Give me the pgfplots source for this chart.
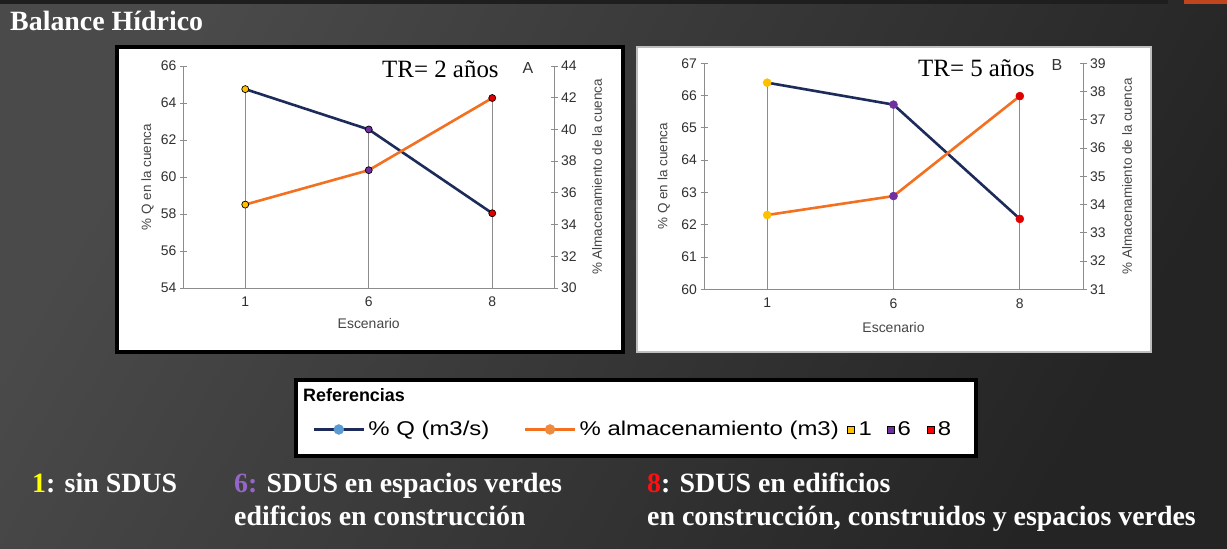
\documentclass[border=0pt]{standalone}
\usepackage{pgfplots}
\pgfplotsset{compat=1.18}
\usepackage{pgfplotstable}
\usepackage{fontspec}
\setmainfont{Liberation Serif}
\newfontfamily\arial{Liberation Sans}
\newfontfamily\arialwide[FakeStretch=1.2]{Liberation Sans}

\definecolor{bglight}{HTML}{4A4A4A}
\definecolor{bgdark}{HTML}{242424}
\definecolor{topstrip}{HTML}{1E1E1E}
\definecolor{orangebar}{HTML}{C0441C}
\definecolor{panelgray}{HTML}{BEBEBE}
\definecolor{axgray}{HTML}{8C8C8C}
\definecolor{txtgray}{HTML}{303030}
\definecolor{lblgray}{HTML}{454545}
\definecolor{navy}{HTML}{1C2B5A}
\definecolor{orng}{HTML}{F37021}
\definecolor{lblue}{HTML}{5B9BD5}
\definecolor{lorng}{HTML}{EE8A3C}
\definecolor{cyel}{HTML}{FFC000}
\definecolor{cpur}{HTML}{7030A0}
\definecolor{cred}{HTML}{E00000}
\definecolor{tyel}{HTML}{FFFF00}
\definecolor{tpur}{HTML}{9466C8}
\definecolor{tred}{HTML}{FF1010}

% Panel A: TR = 2 anos
\pgfplotstableread{
x Q S top c
0 64.75 35.26 64.75 c1
1 62.57 37.43 62.57 c6
2 58.04 41.98 64.27 c8
}\dataA
% Panel B: TR = 5 anos
\pgfplotstableread{
x Q S top c
0 66.40 33.63 66.40 c1
1 65.72 34.30 65.72 c6
2 62.18 37.84 65.99 c8
}\dataB

\pgfplotsset{
  panel/.style={
    scale only axis,
    xmin=-0.5, xmax=2.5,
    xtick={0,1,2}, xticklabels={1,6,8},
    axis line style={draw=axgray, line width=0.9bp},
    tick style={draw=axgray, line width=0.9bp},
    major tick length=7bp, tick align=center,
    x tick style={draw=none},
    tick label style={font=\arial\fontsize{14}{16}\selectfont, text=txtgray},
    xticklabel style={yshift=-2bp},
    label style={font=\arial\fontsize{13.5}{16}\selectfont, text=lblgray},
    /pgf/number format/assume math mode=true,
  },
}

\begin{document}
\begin{tikzpicture}
\useasboundingbox (0,0) rectangle (1227bp,549bp);
\shade[top color=bglight, bottom color=bgdark, shading angle=60] (0,0) rectangle (1227bp,549bp);
\fill[topstrip] (0,545bp) rectangle (1168bp,549bp);
\fill[orangebar] (1184bp,545bp) rectangle (1227bp,549bp);

\node[anchor=base west, inner sep=0pt, text=white, font=\bfseries\fontsize{28}{32}\selectfont] at (10bp,518bp) {Balance Hídrico};

% panel boxes
\draw[line width=3.5bp, fill=white, draw=black] (117bp,197bp) rectangle (623bp,502bp);
\draw[line width=2bp, fill=white, draw=panelgray] (637bp,197bp) rectangle (1151bp,502bp);

% ---------------- Panel A ----------------
\begin{axis}[panel, at={(183.5bp,261bp)}, anchor=south west,
  width=370.5bp, height=222bp,
  ymin=54, ymax=66, ytick={54,56,...,66},
  axis y line*=left, axis x line*=bottom,
  ylabel={\% Q en la cuenca}, xlabel={\fontsize{14}{16}\selectfont Escenario},
  ylabel style={at={(axis description cs:-0.097,0.5)}, anchor=center},
  xlabel style={at={(axis description cs:0.5,-0.162)}, anchor=center},
]
\addplot[ycomb, draw=axgray, line width=0.9bp, no marks] table[x=x, y=top] {\dataA};
\addplot[draw=navy, line width=2.6bp, mark=*, mark size=3.5bp,
  scatter, scatter src=explicit symbolic,
  mark options={line width=0.7bp},
  scatter/classes={c1={fill=cyel, draw=black}, c6={fill=cpur, draw=black}, c8={fill=cred, draw=black}}]
  table[x=x, y=Q, meta=c] {\dataA};
\end{axis}
\begin{axis}[panel, at={(183.5bp,261bp)}, anchor=south west,
  width=370.5bp, height=222bp,
  ymin=30, ymax=44, ytick={30,32,...,44},
  axis y line*=right, axis x line=none,
  ylabel={\% Almacenamiento de la cuenca},
  ylabel style={at={(axis description cs:1.116,0.5)}, anchor=center},
]
\addplot[draw=orng, line width=2.6bp, mark=*, mark size=3.5bp,
  scatter, scatter src=explicit symbolic,
  mark options={line width=0.7bp},
  scatter/classes={c1={fill=cyel, draw=black}, c6={fill=cpur, draw=black}, c8={fill=cred, draw=black}}]
  table[x=x, y=S, meta=c] {\dataA};
\end{axis}
\node[anchor=base west, inner sep=0pt, font=\fontsize{25}{28}\selectfont] at (382bp,471bp) {TR= 2 años};
\node[inner sep=0pt, font=\arial\fontsize{16}{18}\selectfont, text=black!80] at (528bp,481bp) {A};

% ---------------- Panel B ----------------
\begin{axis}[panel, at={(704bp,259.7bp)}, anchor=south west,
  width=379bp, height=226bp,
  ymin=60, ymax=67, ytick={60,61,...,67},
  axis y line*=left, axis x line*=bottom,
  ylabel={\% Q en la cuenca}, xlabel={\fontsize{14}{16}\selectfont Escenario},
  ylabel style={at={(axis description cs:-0.106,0.5)}, anchor=center},
  xlabel style={at={(axis description cs:0.5,-0.168)}, anchor=center},
]
\addplot[ycomb, draw=axgray, line width=0.9bp, no marks] table[x=x, y=top] {\dataB};
\addplot[draw=navy, line width=2.6bp, mark=*, mark size=4bp,
  scatter, scatter src=explicit symbolic,
  mark options={line width=0.5bp},
  scatter/classes={c1={fill=cyel, draw=cyel}, c6={fill=cpur, draw=cpur}, c8={fill=cred, draw=cred}}]
  table[x=x, y=Q, meta=c] {\dataB};
\end{axis}
\begin{axis}[panel, at={(704bp,259.7bp)}, anchor=south west,
  width=379bp, height=226bp,
  ymin=31, ymax=39, ytick={31,32,...,39},
  axis y line*=right, axis x line=none,
  ylabel={\% Almacenamiento de la cuenca},
  ylabel style={at={(axis description cs:1.116,0.5)}, anchor=center},
]
\addplot[draw=orng, line width=2.6bp, mark=*, mark size=4bp,
  scatter, scatter src=explicit symbolic,
  mark options={line width=0.5bp},
  scatter/classes={c1={fill=cyel, draw=cyel}, c6={fill=cpur, draw=cpur}, c8={fill=cred, draw=cred}}]
  table[x=x, y=S, meta=c] {\dataB};
\end{axis}
\node[anchor=base west, inner sep=0pt, font=\fontsize{25}{28}\selectfont] at (918bp,472bp) {TR= 5 años};
\node[inner sep=0pt, font=\arial\fontsize{16}{18}\selectfont, text=black!80] at (1057bp,484bp) {B};

% ---------------- Legend box ----------------
\draw[line width=4bp, fill=white, draw=black] (296bp,93bp) rectangle (976bp,169bp);
\node[anchor=base west, inner sep=0pt, font=\arial\bfseries\fontsize{18}{20}\selectfont] at (303bp,147bp) {Referencias};
\begin{axis}[at={(296bp,93bp)}, anchor=south west, scale only axis,
  width=680bp, height=76bp, hide axis,
  xmin=0, xmax=1, ymin=0, ymax=1,
  legend columns=5,
  legend style={at={(axis description cs:0.0235,0.349)}, anchor=west,
    draw=none, fill=none, inner sep=0pt, column sep=0pt,
    font=\arialwide\fontsize{20}{22}\selectfont,
    nodes={inner sep=0pt}, cells={anchor=west}},
]
\addplot[draw=none, forget plot] coordinates {(0,0)};
\addlegendimage{legend image code/.code={\draw[navy, line width=3.3bp] (0bp,0bp) -- (50bp,0bp); \fill[lblue] (25bp,0bp) circle (5bp);}}
\addlegendentry{\kern3bp\% Q (m3/s)\kern34bp\mbox{}}
\addlegendimage{legend image code/.code={\draw[orng, line width=3.3bp] (0bp,0bp) -- (50bp,0bp); \fill[lorng] (25bp,0bp) circle (5bp);}}
\addlegendentry{\kern3bp\% almacenamiento (m3)\kern8bp\mbox{}}
\addlegendimage{legend image code/.code={\draw[black, line width=0.8bp, fill=cyel] (0bp,-3.5bp) rectangle (7bp,3.5bp);}}
\addlegendentry{\kern4bp 1\kern15bp\mbox{}}
\addlegendimage{legend image code/.code={\draw[black, line width=0.8bp, fill=cpur] (0bp,-3.5bp) rectangle (7bp,3.5bp);}}
\addlegendentry{\kern3bp 6\kern16bp\mbox{}}
\addlegendimage{legend image code/.code={\draw[black, line width=0.8bp, fill=red] (0bp,-3.5bp) rectangle (7bp,3.5bp);}}
\addlegendentry{\kern3bp 8}
\end{axis}

% ---------------- Bottom notes ----------------
\begin{scope}[every node/.style={anchor=base west, inner sep=0pt, text=white, font=\bfseries\fontsize{28}{32}\selectfont}]
\node at (32bp,56bp) {\textcolor{tyel}{1}: sin SDUS};
\node at (234bp,56bp) {\textcolor{tpur}{6:} SDUS en espacios verdes};
\node at (234bp,24bp) {edificios en construcción};
\node at (647bp,56bp) {\textcolor{tred}{8}: SDUS en edificios};
\node at (647bp,24bp) {en construcción, construidos y espacios verdes};
\end{scope}
\end{tikzpicture}
\end{document}
